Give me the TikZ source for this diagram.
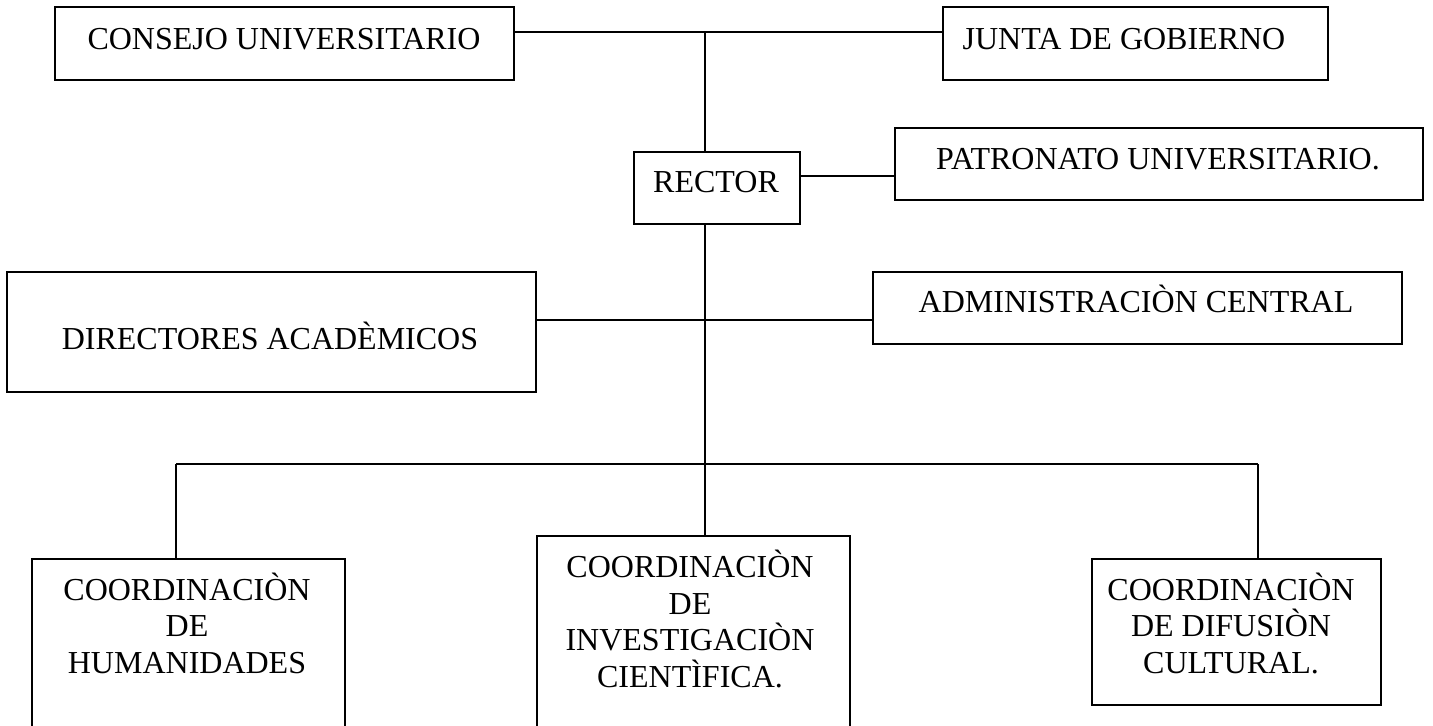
\documentclass[tikz,border=0pt]{standalone}
\usepackage{fontspec}
\setmainfont{Liberation Serif}
\begin{document}
\begin{tikzpicture}[x=0.5pt,y=-0.5pt,
  box/.style={draw=black, line width=1pt, rectangle, inner sep=0pt, outer sep=0pt},
  lbl/.style={inner sep=0pt, outer sep=0pt, font=\fontsize{16}{18.25}\selectfont, align=center},
  conn/.style={draw=black, line width=0.9pt}]
\clip (0,0) rectangle (1433,726);
\fill[white] (0,0) rectangle (1433,726);
% boxes
\node[box, minimum width=229.5pt, minimum height=36.5pt] (cons) at (284.5,43.5) {};
\node[box, minimum width=192.5pt, minimum height=36.5pt] (junta) at (1135.5,43.5) {};
\node[box, minimum width=83pt, minimum height=36pt] (rector) at (717,188) {};
\node[box, minimum width=264pt, minimum height=36pt] (patr) at (1159,164) {};
\node[box, minimum width=264.5pt, minimum height=60pt] (dir) at (271.5,332) {};
\node[box, minimum width=264.5pt, minimum height=36pt] (adm) at (1137.5,308) {};
\node[box, minimum width=156.5pt, minimum height=120.5pt] (hum) at (188.5,679.5) {};
\node[box, minimum width=156.5pt, minimum height=132pt] (inv) at (693.5,668) {};
\node[box, minimum width=144.5pt, minimum height=73pt] (dif) at (1236.5,632) {};
% texts (base anchor = baseline of the last line)
\node[lbl, anchor=base] (cons-t) at (284,50) {CONSEJO UNIVERSITARIO};
\node[lbl, anchor=base] (junta-t) at (1124,50) {JUNTA DE GOBIERNO};
\node[lbl, anchor=base] (rector-t) at (716,193) {RECTOR};
\node[lbl, anchor=base] (patr-t) at (1158,170) {PATRONATO UNIVERSITARIO.};
\node[lbl, anchor=base] (dir-t) at (270,350) {DIRECTORES ACADÈMICOS};
\node[lbl, anchor=base] (adm-t) at (1136,313) {ADMINISTRACIÒN CENTRAL};
\node[lbl, anchor=base] (hum-t) at (187,673) {COORDINACIÒN\\DE\\HUMANIDADES};
\node[lbl, anchor=base] (inv-t) at (690,687) {COORDINACIÒN\\DE\\INVESTIGACIÒN\\CIENTÌFICA.};
\node[lbl, anchor=base] (dif-t) at (1231,673) {COORDINACIÒN\\DE DIFUSIÒN\\CULTURAL.};
% connectors
\coordinate (top) at (705,32);
\coordinate (rp) at (800,176);
\coordinate (da) at (600,320);
\coordinate (bl) at (176,464);
\coordinate (br) at (1258,464);
\draw[conn] (cons.east |- top) -- (junta.west |- top);
\draw[conn] (top) -- (rector.north -| top);
\draw[conn] (rector.east |- rp) -- (patr.west |- rp);
\draw[conn] (rector.south -| top) -- (inv.north -| top);
\draw[conn] (dir.east |- da) -- (adm.west |- da);
\draw[conn] (bl) -- (br);
\draw[conn] (bl) -- (hum.north -| bl);
\draw[conn] (br) -- (dif.north -| br);
\end{tikzpicture}
\end{document}
